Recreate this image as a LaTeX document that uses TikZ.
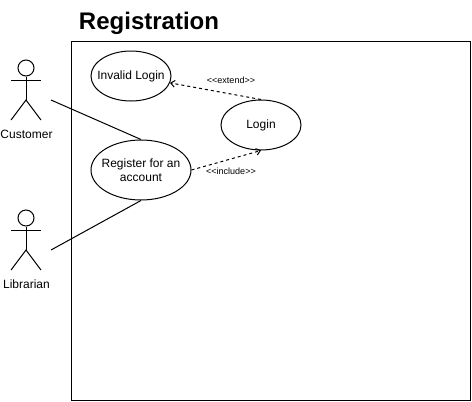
\documentclass[tikz,border=0pt]{standalone}
\usepackage{fontspec}
\setmainfont{Liberation Sans}
\usetikzlibrary{shapes.geometric,arrows.meta}
\tikzset{
usecase/.style={draw,ellipse,inner sep=0pt,align=center,font=\fontsize{9pt}{10.5pt}\selectfont},
stereo/.style={font=\fontsize{6.75pt}{8pt}\selectfont,inner sep=0pt},
actorname/.style={font=\fontsize{9pt}{10.5pt}\selectfont,inner sep=0pt},
rel/.style={dash pattern=on 2.25pt off 2.25pt,-{Straight Barb[length=3pt,width=5pt]}},
actor/.pic={
\node[draw,circle,minimum size=12pt,inner sep=0pt](-head) at (0,-52){};
\draw (-head.south) -- (0,-20);
\draw (-15,-40) -- (15,-40);
\draw (-15,0) -- (0,-20) -- (15,0);
}
}
\begin{document}
\begin{tikzpicture}[x=0.75pt,y=-0.75pt,line width=0.75pt]
\useasboundingbox (0,0) rectangle (472,401);
\node[draw,minimum width=299.25pt,minimum height=269.25pt,inner sep=0pt](frame) at (271.25,220.5){};
\node[anchor=west,inner sep=0pt,font=\fontsize{18pt}{21pt}\selectfont\bfseries](title) at (78.5,23){Registration};
% actors
\pic (customer) at (26,120) {actor};
\pic (librarian) at (26,270) {actor};
\node[actorname](customerlabel) at (26.5,134){Customer};
\node[actorname](librarianlabel) at (26.5,284){Librarian};
\coordinate (c) at (51,100);
\coordinate (l) at (51,250);
% use cases
\node[usecase,minimum width=60pt,minimum height=37.5pt](invalid) at (131,76){\makebox[0pt]{Invalid Login}};
\node[usecase,minimum width=60pt,minimum height=37.5pt](login) at (261,125){\makebox[0pt]{Login}};
\node[usecase,minimum width=75pt,minimum height=45pt](register) at (141,170){\makebox[0pt]{Register for an}\\\makebox[0pt]{account}};
\draw (c) -- (register.north);
\draw (l) -- (register.south);
\draw[rel] (login.north) -- (invalid.-10);
\draw[rel] (register.east) -- (login.south);
\node[stereo](extend) at (231,80.5){<{}<extend>{}>};
\node[stereo](include) at (231,171){<{}<include>{}>};
\end{tikzpicture}
\end{document}
